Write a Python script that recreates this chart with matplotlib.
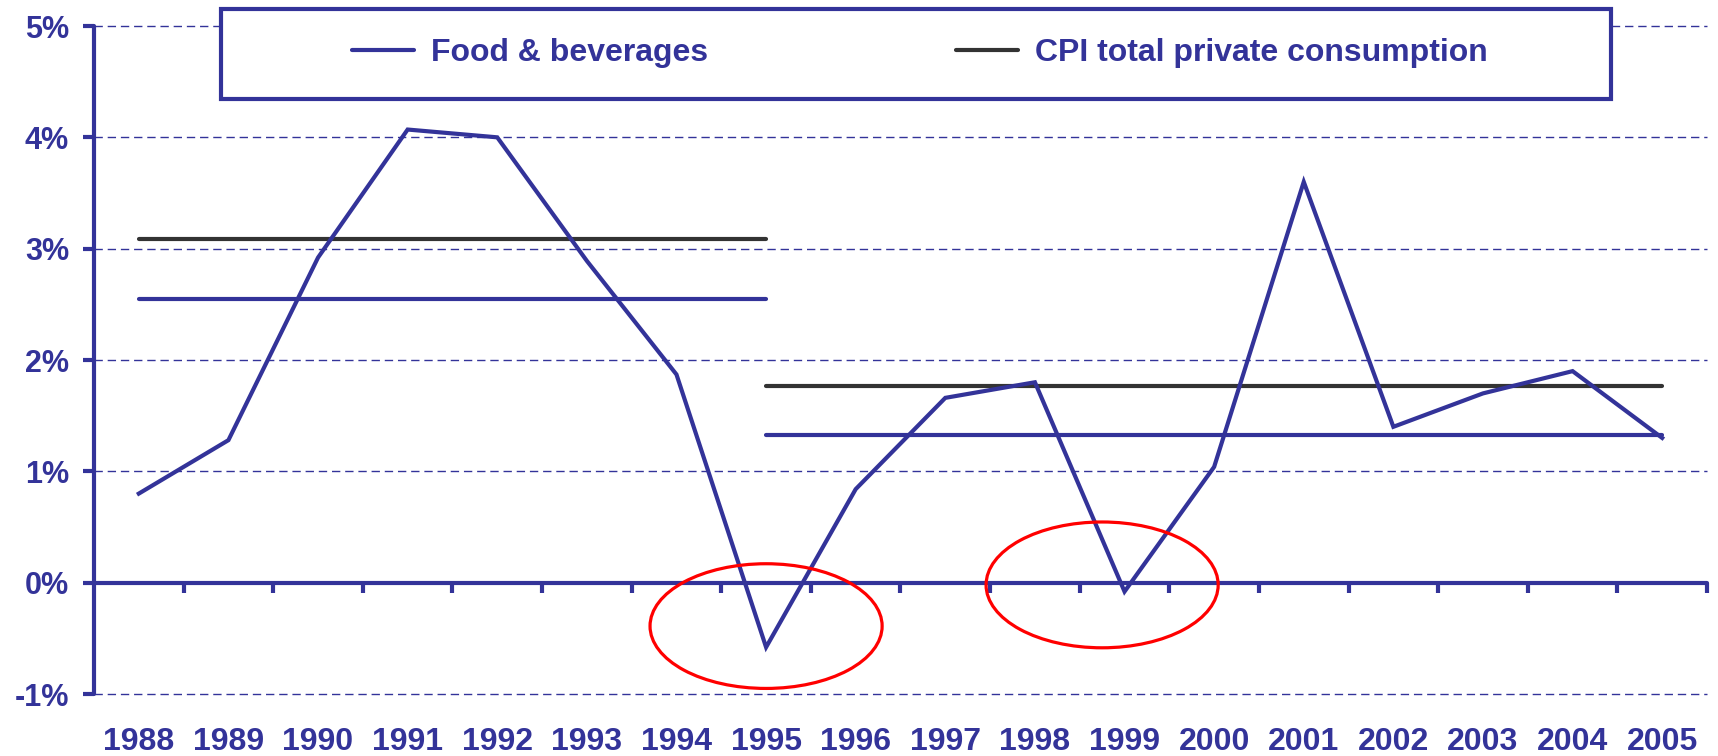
import matplotlib.pyplot as plt
from matplotlib.patches import Ellipse, Rectangle
from matplotlib.lines import Line2D

# data (% change)
years = [str(y) for y in range(1988, 2006)]
food = [0.80, 1.28, 2.92, 4.07, 4.00, 2.89, 1.87, -0.58, 0.84, 1.66,
        1.80, -0.08, 1.04, 3.60, 1.40, 1.70, 1.90, 1.30]

# period averages: start year, end year, level
food_avg_start = ["1988", "1995"]
food_avg_end = ["1995", "2005"]
food_avg = [2.55, 1.33]
cpi_avg_start = ["1988", "1995"]
cpi_avg_end = ["1995", "2005"]
cpi_avg = [3.09, 1.77]

yticks = [-1, 0, 1, 2, 3, 4, 5]

BLUE = "#333399"
DARK = "#333333"
RED = "#ff0000"

plt.rcParams['font.family'] = ['Liberation Sans', 'DejaVu Sans']
plt.rcParams['font.weight'] = 'bold'

W, H = 1718, 756
fig = plt.figure(figsize=(W / 100, H / 100), dpi=100)
ax = fig.add_axes([94 / W, 62 / H, (1707 - 94) / W, (694 - 26) / H])

x = list(range(len(years)))
pos = {y: i for i, y in enumerate(years)}

# dashed grid
for v in yticks:
    if v != 0:
        ax.axhline(v, color=BLUE, lw=1, ls=(0, (6, 3.5)), zorder=1, clip_on=False)

# average lines
for s, e, v in zip(cpi_avg_start, cpi_avg_end, cpi_avg):
    ax.plot([pos[s], pos[e]], [v, v], color=DARK, lw=3, zorder=2,
            solid_capstyle='round')
for s, e, v in zip(food_avg_start, food_avg_end, food_avg):
    ax.plot([pos[s], pos[e]], [v, v], color=BLUE, lw=3, zorder=2,
            solid_capstyle='round')

ax.plot(x, food, color=BLUE, lw=3, zorder=3, solid_joinstyle='miter')

# red circles around the dips
ax.add_patch(Ellipse((pos["1995"], -0.39), 2.59, 1.12, fill=False,
                     edgecolor=RED, lw=2.3, zorder=4))
ax.add_patch(Ellipse((pos["1999"] - 0.25, -0.02), 2.59, 1.13, fill=False,
                     edgecolor=RED, lw=2.3, zorder=4))

ax.set_xlim(-0.5, len(years) - 0.5)
ax.set_ylim(-1, 5)

for s in ['top', 'right']:
    ax.spines[s].set_visible(False)
ax.spines['left'].set_color(BLUE)
ax.spines['left'].set_linewidth(3)
ax.spines['bottom'].set_color(BLUE)
ax.spines['bottom'].set_linewidth(3)
ax.spines['bottom'].set_position(('data', 0))
ax.spines['left'].set_capstyle('round')
ax.spines['bottom'].set_capstyle('round')

ax.set_yticks(yticks, labels=[f"{v}%" for v in yticks])
ax.tick_params(axis='y', length=8, width=3, color=BLUE, labelcolor=BLUE,
               labelsize=22, pad=10)

# category boundary ticks hanging off the zero line
ax.set_xticks([i + 0.5 for i in x], labels=[])
ax.tick_params(axis='x', length=7, width=3, color=BLUE, direction='out')

sec = ax.secondary_xaxis(0)
sec.set_xticks(x, labels=years)
sec.tick_params(length=0, pad=24, labelsize=23, labelcolor=BLUE)
sec.spines['bottom'].set_visible(False)

# legend box
box = Rectangle((221 / W, 1 - 99 / H), 1390 / W, 90 / H, transform=fig.transFigure,
                facecolor='white', edgecolor=BLUE, lw=3, zorder=6, clip_on=False)
ax.add_patch(box)
handles = [Line2D([], [], color=BLUE, lw=3, solid_capstyle='round'),
           Line2D([], [], color=DARK, lw=3, solid_capstyle='round')]
leg = ax.legend(handles, ["Food & beverages", "CPI total private consumption"],
                loc='center', bbox_to_anchor=(920 / W, 1 - 53 / H),
                bbox_transform=fig.transFigure, ncol=2, frameon=False,
                fontsize=23, handlelength=1.94, handletextpad=0.53,
                columnspacing=7.75)
for t in leg.get_texts():
    t.set_color(BLUE)
leg.set_zorder(7)

fig.savefig("out.png", dpi=100)
